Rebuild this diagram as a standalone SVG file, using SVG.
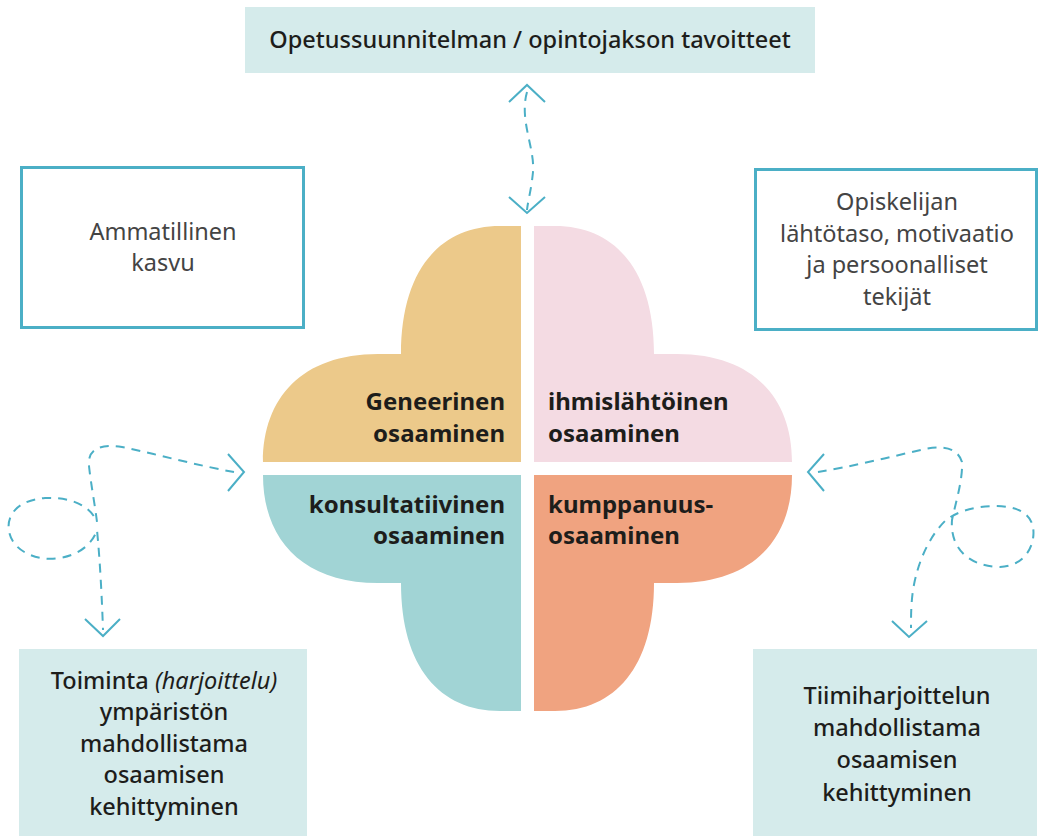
<svg xmlns="http://www.w3.org/2000/svg" width="1043" height="836" viewBox="0 0 1043 836">
<style>
.fillbox{fill:#D5EBEB}
.linebox{fill:#FFFFFF;stroke:#4BAFC6;stroke-width:3}
.t{font-family:"Noto Sans","Open Sans","DejaVu Sans",sans-serif;font-size:23.5px;text-anchor:middle}
.dark{fill:#1D1D1B;font-weight:500}
.grey{fill:#444444;font-weight:400}
.q{font-family:"Noto Sans","Open Sans","DejaVu Sans",sans-serif;font-size:24px;font-weight:700;fill:#1D1D1B}
.dash{fill:none;stroke:#4BAFC6;stroke-width:2;stroke-dasharray:9 7;stroke-linecap:butt}
.head{fill:none;stroke:#4BAFC6;stroke-width:2}
</style>
<defs>
<path id="leaf" d="M521,462 L263,462 C263,398 302,354 378,354 L401,354 C401,270 440,226 500,226 L521,226 Z"/>
</defs>
<rect width="1043" height="836" fill="#FFFFFF"/>

<g id="clover">
<g id="q-geneerinen">
<use href="#leaf" fill="#ECC98A"/>
<text class="q" text-anchor="end" x="505" y="410">Geneerinen</text>
<text class="q" text-anchor="end" x="505" y="442">osaaminen</text>
</g>
<g id="q-ihmislahtoinen">
<use href="#leaf" fill="#F4DBE3" transform="translate(1055,0) scale(-1,1)"/>
<text class="q" x="548" y="410">ihmislähtöinen</text>
<text class="q" x="548" y="442">osaaminen</text>
</g>
<g id="q-konsultatiivinen">
<use href="#leaf" fill="#A1D4D5" transform="translate(0,937) scale(1,-1)"/>
<text class="q" text-anchor="end" x="505" y="513">konsultatiivinen</text>
<text class="q" text-anchor="end" x="505" y="544">osaaminen</text>
</g>
<g id="q-kumppanuus">
<use href="#leaf" fill="#F0A380" transform="translate(1055,937) scale(-1,-1)"/>
<text class="q" x="548" y="513">kumppanuus-</text>
<text class="q" x="548" y="544">osaaminen</text>
</g>
</g>

<g id="n-top">
<rect class="fillbox" x="245" y="7" width="570" height="66"/>
<text class="t dark" x="530" y="48">Opetussuunnitelman / opintojakson tavoitteet</text>
</g>

<g id="n-ammatillinen">
<rect class="linebox" x="21.5" y="167.5" width="282" height="160"/>
<text class="t grey" x="163" y="240">Ammatillinen</text>
<text class="t grey" x="163" y="271">kasvu</text>
</g>

<g id="n-opiskelijan">
<rect class="linebox" x="755.5" y="169.5" width="281" height="160"/>
<text class="t grey" x="897" y="210">Opiskelijan</text>
<text class="t grey" x="897" y="242">lähtötaso, motivaatio</text>
<text class="t grey" x="897" y="273">ja persoonalliset</text>
<text class="t grey" x="897" y="305">tekijät</text>
</g>

<g id="n-toiminta">
<rect class="fillbox" x="19" y="649" width="288" height="187"/>
<text class="t dark" x="164" y="689">Toiminta <tspan font-style="italic" font-weight="400">(harjoittelu)</tspan></text>
<text class="t dark" x="164" y="720">ympäristön</text>
<text class="t dark" x="164" y="752">mahdollistama</text>
<text class="t dark" x="164" y="783">osaamisen</text>
<text class="t dark" x="164" y="815">kehittyminen</text>
</g>

<g id="n-tiimi">
<rect class="fillbox" x="753" y="649" width="284" height="187"/>
<text class="t dark" x="897" y="704">Tiimiharjoittelun</text>
<text class="t dark" x="897" y="736">mahdollistama</text>
<text class="t dark" x="897" y="768">osaamisen</text>
<text class="t dark" x="897" y="801">kehittyminen</text>
</g>

<g id="connectors">
<path class="dash" d="M527,92 C519,120 535,148 533,172 C531,192 528,200 527,210"/>
<polyline class="head" points="509,102 527,85 545,102"/>
<polyline class="head" points="509,197 527,213 545,197"/>

<path class="dash" d="M234,472 C200,466 160,455 122,447 C100,443 87,450 89,466 C91,485 95,505 97,522 C90,505 70,497 45,498 C18,500 6,515 9,531 C12,550 35,562 60,558 C78,555 92,545 97,530 C100,560 102,600 103,630"/>
<polyline class="head" points="228,454 244,472 228,491"/>
<polyline class="head" points="85,619 103,636 120,619"/>

<path class="dash" d="M818,472 C850,467 890,457 925,449 C945,445 958,449 962,462 C963,480 955,505 952,520 C950,545 965,566 1000,567 C1025,566 1036,545 1033,527 C1030,512 1015,506 995,506 C975,506 955,512 945,521 C930,536 918,560 913,590 C911,605 911,615 911,628"/>
<polyline class="head" points="824,454 808,472 824,491"/>
<polyline class="head" points="892,621 909,637 927,621"/>
</g>
</svg>
